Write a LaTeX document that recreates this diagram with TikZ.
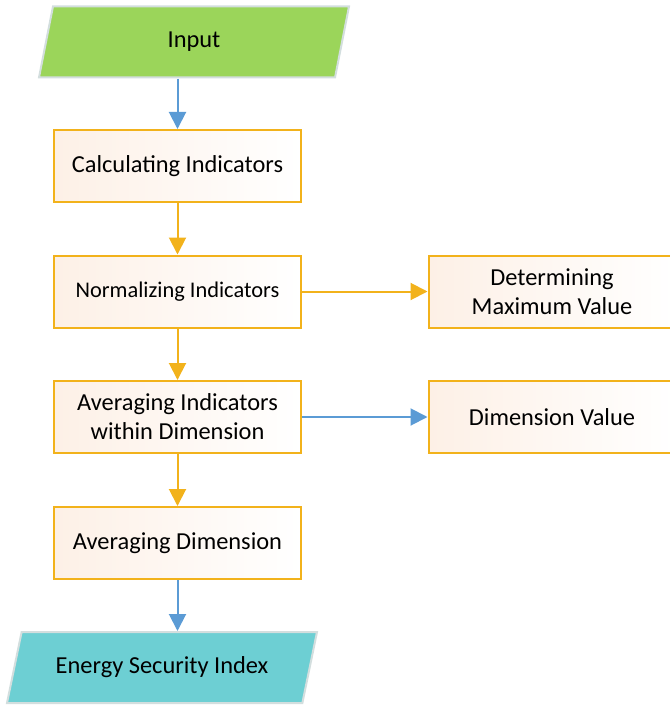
\documentclass[tikz,border=0pt]{standalone}
\usepackage{fontspec}
\setmainfont{Carlito}
\usetikzlibrary{arrows.meta,shapes.geometric}

\definecolor{flowgold}{HTML}{F2B21B}
\definecolor{flowblue}{HTML}{5B9BD5}
\definecolor{inputgreen}{HTML}{9BD55A}
\definecolor{outputteal}{HTML}{6DCFD3}
\definecolor{ioedge}{HTML}{D3DEDE}
\definecolor{boxtint}{HTML}{FDF0E6}

\begin{document}
\begin{tikzpicture}[x=0.5pt, y=-0.5pt,
	procbox/.style={shape=rectangle, draw=flowgold, line width=1pt, left color=boxtint, middle color=white, right color=white, minimum width=123.5pt, minimum height=36pt, align=center, font=\fontsize{12.2}{14.5}\selectfont},
	iobox/.style={trapezium, trapezium left angle=67, trapezium right angle=113, trapezium stretches body, draw=ioedge, line width=1pt, minimum width=155pt, minimum height=35.5pt, font=\fontsize{12.2}{14.5}\selectfont},
	goldwire/.style={draw=flowgold, line width=1pt, -{Triangle[length=8.5pt, width=8.5pt]}},
	bluewire/.style={draw=flowblue, line width=1pt, -{Triangle[length=8.5pt, width=8.5pt]}}]
	\useasboundingbox (0,0) rectangle (669,706);
	% Paths, nodes and wires:
	\node[iobox, fill=inputgreen] (input) at (194, 42){Input};
	\node[procbox] (calcind) at (177.5, 166){Calculating Indicators};
	\node[procbox, font=\fontsize{11.2}{14}\selectfont] (normind) at (177.5, 291.5){Normalizing Indicators};
	\node[procbox] (avgind) at (177.5, 417){Averaging Indicators\\within Dimension};
	\node[procbox] (avgdim) at (177.5, 543){Averaging Dimension};
	\node[procbox] (maxval) at (552, 291.5){Determining\\Maximum Value};
	\node[procbox] (dimval) at (552, 417){Dimension Value};
	\node[iobox, fill=outputteal] (esi) at (162, 667.5){Energy Security Index};
	\draw[bluewire] (calcind.north |- input.south) -- (calcind.north);
	\draw[goldwire] (calcind) -- (normind);
	\draw[goldwire] (normind) -- (avgind);
	\draw[goldwire] (avgind) -- (avgdim);
	\draw[goldwire] (normind) -- (maxval);
	\draw[bluewire] (avgind) -- (dimval);
	\draw[bluewire] (avgdim.south) -- (avgdim.south |- esi.north);
\end{tikzpicture}
\end{document}
